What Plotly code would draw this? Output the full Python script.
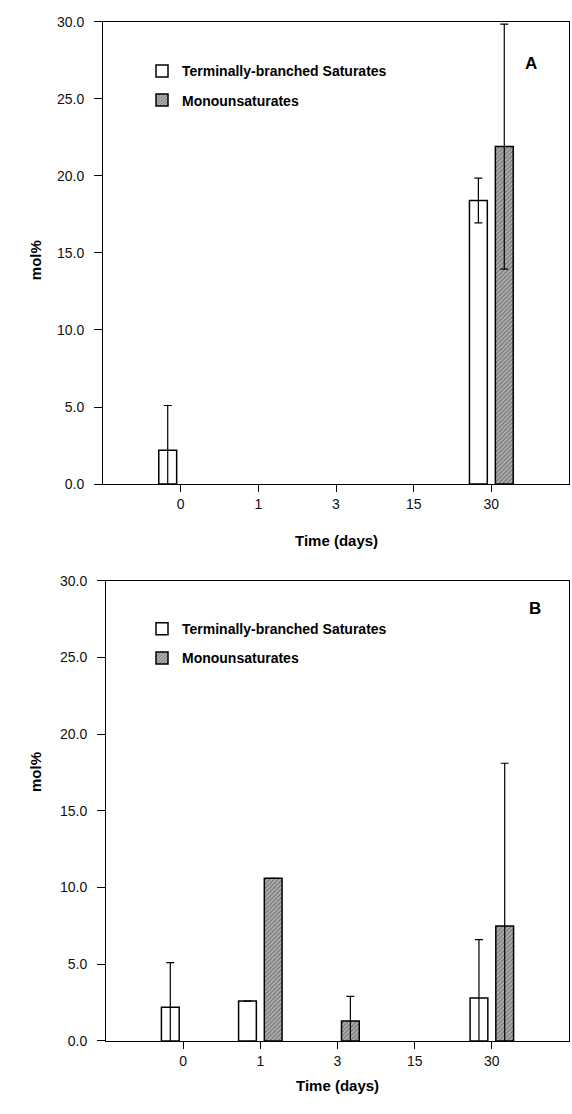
import plotly.graph_objects as go

# ---- data ----
time_labels = ["0", "1", "3", "15", "30"]
positions = [0, 1, 2, 3, 4]

# None = no bar drawn (value not present / zero)
a_branched = [2.2, None, None, None, 18.4]
a_branched_err = [2.9, None, None, None, 1.45]
a_mono = [None, None, None, None, 21.9]
a_mono_err = [None, None, None, None, 7.95]

b_branched = [2.2, 2.6, None, None, 2.8]
b_branched_err = [2.9, None, None, None, 3.8]
b_mono = [None, 10.6, 1.3, None, 7.5]
b_mono_err = [None, None, 1.6, None, 10.6]

y_ticks = [0, 5, 10, 15, 20, 25, 30]

W, H = 572, 1114
FONT = "Liberation Sans, Arial, sans-serif"


def px(x):
    return x / W


def py(y):
    return 1 - y / H


fig = go.Figure()

white_style = dict(color="white", line=dict(color="black", width=1.5))
hatch_style = dict(color="#a0a0a0", line=dict(color="black", width=1.5),
                   pattern=dict(shape="/", fgcolor="#2a2a2a", bgcolor="#b0b0b0",
                                size=3, solidity=0.35))


def err(arr):
    return dict(type="data", array=arr, visible=True, color="black",
                thickness=1.2, width=4)


fig.add_trace(go.Bar(x=positions, y=a_branched, error_y=err(a_branched_err),
                     marker=white_style, name="Terminally-branched Saturates",
                     xaxis="x", yaxis="y", legend="legend", legendgroup="a1"))
fig.add_trace(go.Bar(x=positions, y=a_mono, error_y=err(a_mono_err),
                     marker=hatch_style, name="Monounsaturates",
                     xaxis="x", yaxis="y", legend="legend", legendgroup="a2"))
fig.add_trace(go.Bar(x=positions, y=b_branched, error_y=err(b_branched_err),
                     marker=white_style, name="Terminally-branched Saturates",
                     xaxis="x2", yaxis="y2", legend="legend2", legendgroup="b1"))
fig.add_trace(go.Bar(x=positions, y=b_mono, error_y=err(b_mono_err),
                     marker=hatch_style, name="Monounsaturates",
                     xaxis="x2", yaxis="y2", legend="legend2", legendgroup="b2"))


def xaxis(dom, anchor):
    return dict(domain=dom, anchor=anchor, range=[-1, 5], tickmode="array",
                tickvals=positions, ticktext=time_labels, ticks="outside",
                ticklen=7, tickwidth=1, tickcolor="black", showline=True,
                linecolor="black", linewidth=1, mirror=True, showgrid=False,
                zeroline=False, ticklabelstandoff=0,
                tickfont=dict(family=FONT, size=14, color="#111"))


def yaxis(dom, anchor):
    return dict(domain=dom, anchor=anchor, range=[0, 30], tickmode="array",
                tickvals=y_ticks, tickformat=".1f", ticks="outside", ticklen=8,
                tickwidth=1, tickcolor="black", showline=True, linecolor="black",
                linewidth=1, mirror=True, showgrid=False, zeroline=False,
                ticklabelstandoff=7,
                tickfont=dict(family=FONT, size=14, color="#111"))


def legend(ytop):
    return dict(x=px(142), xanchor="left", y=py(ytop), yanchor="top",
                bgcolor="rgba(0,0,0,0)", borderwidth=0, tracegroupgap=8,
                itemwidth=30,
                font=dict(family=FONT, size=14, color="black", weight="bold"))


fig.update_layout(
    width=W, height=H,
    margin=dict(l=0, r=0, t=0, b=0),
    paper_bgcolor="white", plot_bgcolor="white",
    barmode="group", bargap=0.333, bargroupgap=0.31,
    xaxis=xaxis([px(103), px(569)], "y"),
    yaxis=yaxis([py(483), py(14)], "x"),
    xaxis2=xaxis([px(106), px(569)], "y2"),
    yaxis2=yaxis([py(1048), py(581)], "x2"),
    legend=legend(48),
    legend2=legend(614),
    showlegend=True,
)

for text, x, y in (("A", 539, 45), ("B", 543, 609)):
    fig.add_annotation(text=text, x=px(x), y=py(y), xref="paper", yref="paper",
                       showarrow=False,
                       font=dict(family=FONT, size=17, color="black", weight="bold"))

for yc in (234, 798):
    fig.add_annotation(text="mol%", x=px(25), y=py(yc), xref="paper", yref="paper",
                       textangle=-90, showarrow=False,
                       font=dict(family=FONT, size=15, color="black", weight="bold"))
for yc, x0, x1 in ((540, 103, 569), (1104, 106, 569)):
    fig.add_annotation(text="Time (days)", x=px((x0 + x1) / 2), y=py(yc),
                       xref="paper", yref="paper", showarrow=False,
                       font=dict(family=FONT, size=15, color="black", weight="bold"))

# remove the browser's default body margin so the figure fills the window
fig.write_html("out.html",
               config={"displayModeBar": False},
               post_script="document.body.style.margin='0';"
                           "document.body.style.overflow='hidden';")
